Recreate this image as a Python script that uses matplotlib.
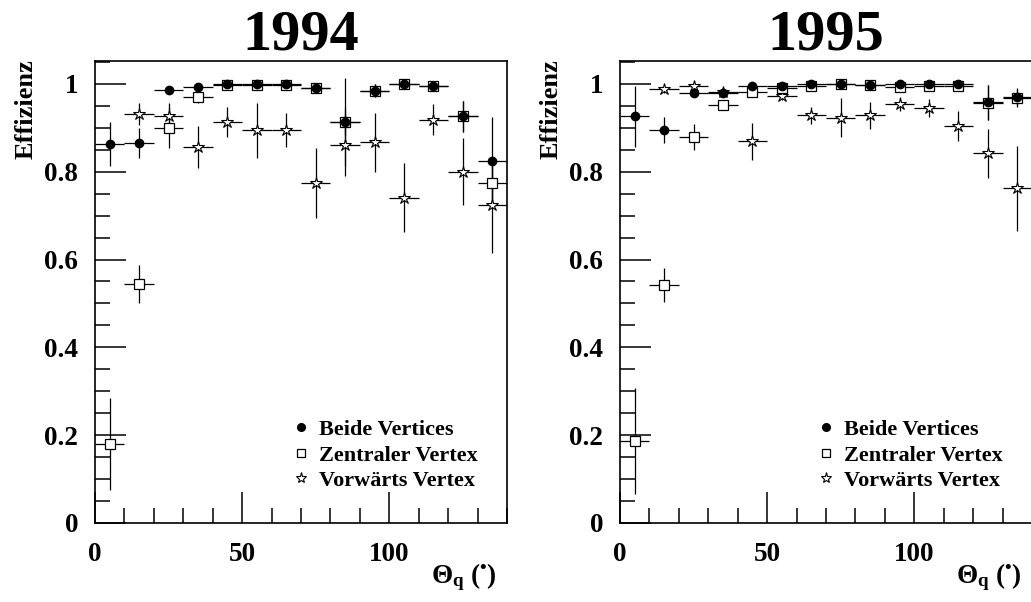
import matplotlib
matplotlib.use("Agg")
import matplotlib.pyplot as plt
from matplotlib.lines import Line2D
from matplotlib.ticker import MultipleLocator

plt.rcParams['font.family'] = ['Liberation Serif', 'DejaVu Serif']
plt.rcParams['font.weight'] = 'bold'
plt.rcParams['mathtext.fontset'] = 'custom'
plt.rcParams['mathtext.rm'] = 'Liberation Serif:bold'
plt.rcParams['mathtext.it'] = 'Liberation Serif:bold'
plt.rcParams['mathtext.bf'] = 'Liberation Serif:bold'

# bin centres (degrees), half bin width 5
theta = [5, 15, 25, 35, 45, 55, 65, 75, 85, 95, 105, 115, 125, 135]
theta_vorw = theta[1:]

# 1994
beide94 = [0.863, 0.865, 0.986, 0.992, 0.999, 0.999, 0.999, 0.990, 0.914, 0.984, 0.999, 0.994, 0.926, 0.825]
beide94_err = [0.05, 0.035, 0.008, 0.008, 0.004, 0.004, 0.004, 0.006, 0.10, 0.015, 0.004, 0.006, 0.035, 0.10]
zentral94 = [0.180, 0.544, 0.900, 0.971, 0.998, 0.998, 0.998, 0.990, 0.914, 0.984, 0.999, 0.994, 0.926, 0.775]
zentral94_err = [0.105, 0.044, 0.047, 0.015, 0.005, 0.005, 0.005, 0.007, 0.03, 0.015, 0.005, 0.007, 0.035, 0.06]
vorw94 = [0.931, 0.926, 0.856, 0.913, 0.894, 0.895, 0.775, 0.861, 0.867, 0.741, 0.918, 0.800, 0.725]
vorw94_err = [0.025, 0.03, 0.048, 0.034, 0.062, 0.038, 0.08, 0.07, 0.067, 0.079, 0.035, 0.077, 0.11]

# 1995
beide95 = [0.926, 0.895, 0.979, 0.980, 0.994, 0.996, 0.999, 0.999, 0.997, 0.999, 0.999, 0.999, 0.958, 0.971]
beide95_err = [0.07, 0.03, 0.006, 0.01, 0.005, 0.004, 0.004, 0.004, 0.004, 0.004, 0.004, 0.004, 0.04, 0.02]
zentral95 = [0.187, 0.542, 0.879, 0.952, 0.982, 0.990, 0.994, 0.999, 0.997, 0.993, 0.994, 0.994, 0.957, 0.967]
zentral95_err = [0.12, 0.038, 0.03, 0.012, 0.008, 0.006, 0.005, 0.004, 0.004, 0.005, 0.005, 0.005, 0.04, 0.02]
vorw95 = [0.988, 0.994, 0.982, 0.869, 0.973, 0.928, 0.923, 0.928, 0.954, 0.945, 0.904, 0.842, 0.762]
vorw95_err = [0.008, 0.008, 0.008, 0.042, 0.01, 0.02, 0.044, 0.03, 0.015, 0.02, 0.034, 0.056, 0.097]

labels = ["Beide Vertices", "Zentraler Vertex", "Vorwärts Vertex"]

fig = plt.figure(figsize=(10.31, 6.02), dpi=100)
ax1 = fig.add_axes([95 / 1031, 79 / 602, 412 / 1031, 462 / 602])
ax2 = fig.add_axes([620 / 1031, 79 / 602, 412 / 1031, 462 / 602])


def panel(ax, year, beide, beide_err, zentral, zentral_err, vorw, vorw_err):
    eb = dict(xerr=5, capsize=0, elinewidth=0.9, ecolor='black', linestyle='none')
    ax.errorbar(theta_vorw, vorw, yerr=vorw_err, marker='*', ms=9, mfc='white',
                mec='black', mew=0.8, **eb)
    ax.errorbar(theta, zentral, yerr=zentral_err, marker='s', ms=7, mfc='white',
                mec='black', mew=0.9, **eb)
    ax.errorbar(theta, beide, yerr=beide_err, marker='o', ms=6, mfc='black',
                mec='black', **eb)

    ax.set_xlim(0, 140)
    ax.set_ylim(0, 1.052)
    ax.xaxis.set_major_locator(MultipleLocator(50))
    ax.xaxis.set_minor_locator(MultipleLocator(10))
    ax.yaxis.set_major_locator(MultipleLocator(0.2))
    ax.yaxis.set_minor_locator(MultipleLocator(0.05))
    ax.yaxis.set_major_formatter(plt.FuncFormatter(lambda v, p: f"{v:g}"))
    ax.tick_params(which='both', direction='in', top=False, right=False,
                   labelsize=19.5, width=1.1)
    ax.tick_params(which='major', length=22)
    ax.tick_params(which='minor', length=11)
    ax.tick_params(axis='x', pad=14)
    ax.tick_params(axis='y', pad=12)
    for s in ax.spines.values():
        s.set_linewidth(1.2)

    ax.set_title(year, fontsize=42, fontweight='bold', pad=8)
    ax.set_ylabel("Effizienz", fontsize=19, fontweight='bold')
    ax.yaxis.label.set_horizontalalignment('right')
    ax.yaxis.set_label_coords(-0.14, 1.004)
    ax.set_xlabel(r"$\Theta_{q}$ ($^{•}$)", fontsize=19.5, fontweight='bold')
    ax.xaxis.label.set_horizontalalignment('right')
    ax.xaxis.set_label_coords(0.976, -0.083)

    handles = [
        Line2D([], [], marker='o', ls='none', ms=5.5, mfc='black', mec='black'),
        Line2D([], [], marker='s', ls='none', ms=6, mfc='white', mec='black', mew=0.9),
        Line2D([], [], marker='*', ls='none', ms=8, mfc='white', mec='black', mew=0.8),
    ]
    ax.legend(handles, labels, loc='upper left', bbox_to_anchor=(0.445, 0.248),
              frameon=False, handlelength=1.0, handletextpad=0.35,
              labelspacing=0.22, borderpad=0, prop={'weight': 'bold', 'size': 16})


panel(ax1, "1994", beide94, beide94_err, zentral94, zentral94_err, vorw94, vorw94_err)
panel(ax2, "1995", beide95, beide95_err, zentral95, zentral95_err, vorw95, vorw95_err)

fig.savefig("out.png", dpi=100)
